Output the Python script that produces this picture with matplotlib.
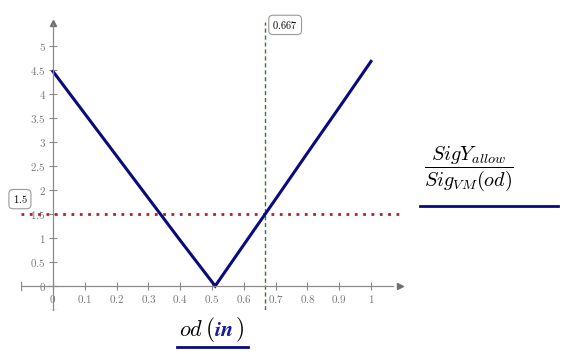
import numpy as np
import matplotlib.pyplot as plt
from matplotlib.lines import Line2D

plt.rcParams['mathtext.fontset'] = 'cm'
plt.rcParams['font.family'] = 'serif'
plt.rcParams['font.serif'] = ['DejaVu Serif']

# data
od = [0.0, 0.1, 0.2, 0.3, 0.4, 0.51, 0.6, 0.7, 0.8, 0.9, 1.0]
ratio = [4.47, 3.59, 2.71, 1.83, 0.95, 0.0, 0.86, 1.81, 2.77, 3.72, 4.68]
allow_ratio = 1.5
od_cross = 0.667
xticks = [0, 0.1, 0.2, 0.3, 0.4, 0.5, 0.6, 0.7, 0.8, 0.9, 1]
yticks = [0, 0.5, 1, 1.5, 2, 2.5, 3, 3.5, 4, 4.5, 5]

W, H = 576, 354
fig = plt.figure(figsize=(W / 100, H / 100), dpi=100)
# pixel layout: x 0->53, 1->371 ; y 0->286, 1->238 (from top)
x0, sx = 53, 318
y0, sy = 286, 48
xlim = (-0.1, 1.1)
ylim = (-0.5, 5.6)
left = (x0 + xlim[0] * sx) / W
width = (xlim[1] - xlim[0]) * sx / W
bottom = (H - (y0 - ylim[0] * sy)) / H
height = (ylim[1] - ylim[0]) * sy / H
ax = fig.add_axes([left, bottom, width, height])
ax.set_xlim(*xlim)
ax.set_ylim(*ylim)

gray = '#8a8a8a'
for s in ['top', 'right']:
    ax.spines[s].set_visible(False)
ax.spines['left'].set_position(('data', 0))
ax.spines['bottom'].set_position(('data', 0))
ax.spines['left'].set_bounds(-0.5, 5.45)
ax.spines['bottom'].set_bounds(-0.1, 1.07)
for s in ['left', 'bottom']:
    ax.spines[s].set_color(gray)
    ax.spines[s].set_linewidth(0.9)
ax.plot(0, 5.48, marker='^', color='#707070', markersize=5, clip_on=False)
ax.plot(1.09, 0, marker='>', color='#707070', markersize=5, clip_on=False)
# end caps
ax.plot([-0.1, -0.1], [-0.08, 0.08], color=gray, lw=0.9)
ax.plot([-0.008, 0.008], [-0.5, -0.5], color=gray, lw=0.9)

ax.set_xticks(xticks)
ax.set_yticks(yticks)
ax.xaxis.set_major_formatter(lambda v, p: f'${v:g}$')
ax.yaxis.set_major_formatter(lambda v, p: f'${v:g}$')
ax.tick_params(direction='inout', length=6, width=0.8, color=gray,
               labelcolor='#777777', labelsize=8, pad=2)

ax.plot([xlim[0], 1.1], [allow_ratio, allow_ratio], color='#b22222',
        lw=2, linestyle=(0, (1, 2)))
ax.plot([od_cross, od_cross], [-0.5, 5.5], color='#2e7d32', lw=1,
        linestyle=(0, (3, 2)))
ax.plot(od, ratio, color='#0a0a80', lw=2.2, solid_joinstyle='miter')

box = dict(boxstyle='round,pad=0.35,rounding_size=0.4', fc='white',
           ec='#999999', lw=0.8)
ax.text(-0.104, 1.81, r'$\mathbf{1.5}$', ha='center', va='center',
        fontsize=7.5, bbox=box, clip_on=False)
ax.text(0.73, 5.44, r'$\mathbf{0.667}$', ha='center', va='center',
        fontsize=7.5, bbox=box, clip_on=False)

# x axis label: "od" black, "in" navy bold italic
ylab = 1 - 330 / H
fig.text(191 / W, ylab, r'$od$', ha='center', va='center', fontsize=16)
fig.text(210 / W, ylab, r'$($', ha='center', va='center', fontsize=17)
fig.text(224 / W, ylab, r'$\boldsymbol{in}$', ha='center', va='center',
         fontsize=16, color='#1a1a9a')
fig.text(239 / W, ylab, r'$)$', ha='center', va='center', fontsize=17)
fig.add_artist(Line2D([177 / W, 248 / W], [1 - 347 / H, 1 - 347 / H],
                      color='#0a0a80', lw=2))

# legend at the right
fig.text(469 / W, 1 - 169 / H,
         r'$\dfrac{SigY_{allow}}{Sig_{VM}(od)}$', ha='center', va='center',
         fontsize=14.5)
fig.add_artist(Line2D([420 / W, 558 / W], [1 - 206 / H, 1 - 206 / H],
                      color='#0a0a80', lw=2))

fig.savefig('out.png', dpi=100)
